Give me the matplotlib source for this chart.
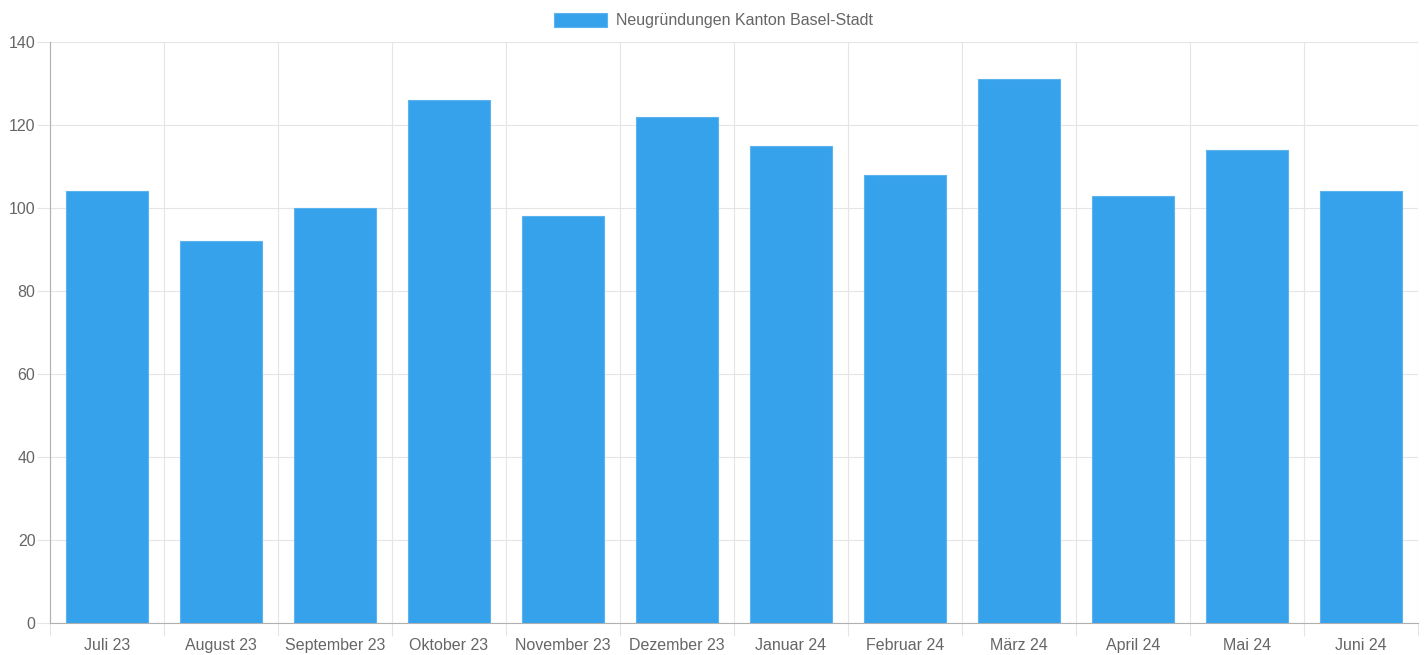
import numpy as np
import matplotlib.pyplot as plt
from matplotlib.ticker import MultipleLocator, FixedLocator

months = ["Juli 23", "August 23", "September 23", "Oktober 23", "November 23",
          "Dezember 23", "Januar 24", "Februar 24", "März 24", "April 24",
          "Mai 24", "Juni 24"]
neugruendungen = [104, 92, 100, 126, 98, 122, 115, 108, 131, 103, 114, 104]
series_label = "Neugründungen Kanton Basel-Stadt"

plt.rcParams["font.family"] = ["Liberation Sans", "DejaVu Sans"]
plt.rcParams["font.size"] = 11.5

bar_color = "#36A2EB"
text_color = "#666666"
grid_color = "#e5e5e5"

fig = plt.figure(figsize=(14.25, 6.55), dpi=100)
ax = fig.add_axes([50 / 1425, 32 / 655, 1368 / 1425, 581 / 655])

x = np.arange(len(months))
ax.bar(x, neugruendungen, width=0.72, color=bar_color, edgecolor="#5cb4ef",
       linewidth=0.8, label=series_label, zorder=3)

ax.set_xlim(-0.5, len(months) - 0.5)
ax.set_ylim(0, 140)
ax.yaxis.set_major_locator(MultipleLocator(20))
ax.set_xticks(x)
ax.set_xticklabels(months)
ax.xaxis.set_minor_locator(FixedLocator(np.arange(-0.5, len(months), 1.0)))

ax.tick_params(axis="x", which="major", length=0, pad=11, colors=text_color, labelsize=11.5)
ax.tick_params(axis="x", which="minor", length=9.5, color=grid_color, width=0.8)
ax.tick_params(axis="y", length=9.5, color=grid_color, width=0.8, pad=1,
               colors=text_color, labelsize=11.5)
for lbl in ax.get_yticklabels():
    lbl.set_color(text_color)

ax.grid(axis="y", which="major", color=grid_color, linewidth=0.8, zorder=0)
ax.grid(axis="x", which="minor", color=grid_color, linewidth=0.8, zorder=0)

for side in ["top", "right"]:
    ax.spines[side].set_visible(False)
ax.spines["left"].set_color("#b0b0b0")
ax.spines["bottom"].set_color("#b0b0b0")
ax.spines["left"].set_linewidth(0.8)
ax.spines["bottom"].set_linewidth(0.8)

leg = ax.legend(loc="lower center", bbox_to_anchor=(0.485, 1.0), frameon=False,
                handlelength=3.3, handleheight=0.95, handletextpad=0.55,
                fontsize=11.5, borderaxespad=0.45)
for t in leg.get_texts():
    t.set_color(text_color)

fig.savefig("out.png", dpi=100, facecolor="white")
